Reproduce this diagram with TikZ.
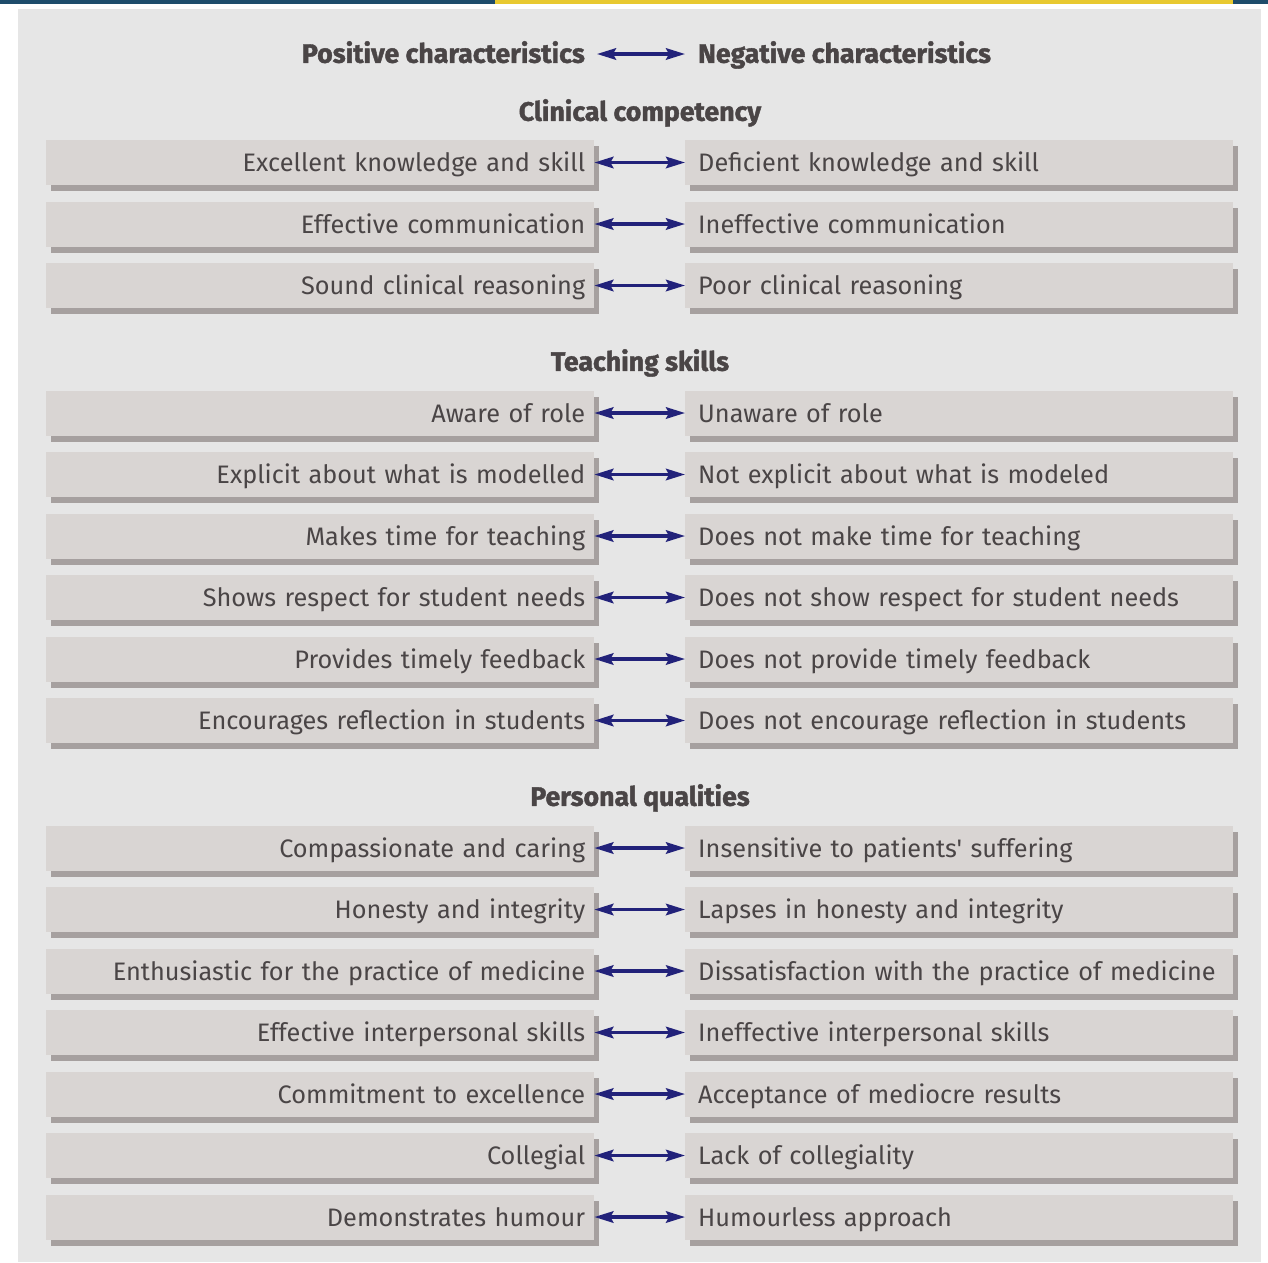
\documentclass[tikz,border=0pt]{standalone}
\usepackage{fontspec}
\setmainfont{Fira Sans}[Ligatures=TeXOff, BoldFeatures={FakeBold=1.5}]
\usetikzlibrary{arrows.meta,shadows}
\definecolor{panel}{HTML}{E6E6E6}
\definecolor{boxfill}{HTML}{D9D5D3}
\definecolor{boxshade}{HTML}{A6A09F}
\definecolor{txt}{HTML}{4A4546}
\definecolor{navy}{HTML}{22227A}
\definecolor{barblue}{HTML}{1E4C6B}
\definecolor{baryellow}{HTML}{E8C930}
\begin{document}
\begin{tikzpicture}[x=1pt,y=-1pt,
  item/.style={rectangle, fill=boxfill, inner ysep=0pt,
    text height=31.7pt, text depth=13.3pt,
    font=\fontsize{25.3}{30}\selectfont, text=txt,
    drop shadow={shadow xshift=5pt, shadow yshift=-6pt, fill=boxshade, opacity=1}},
  posbox/.style={item, anchor=west, inner xsep=9pt, text width=530pt, align=right},
  negbox/.style={item, anchor=west, inner xsep=13pt, text width=522pt, align=left},
  link/.style={{Stealth[length=19pt,width=11.5pt,inset=3pt]}-{Stealth[length=19pt,width=11.5pt,inset=3pt]},
    line width=3.2pt, draw=navy},
  head/.style={font=\fontsize{26.7}{30}\selectfont\bfseries, text=txt,
    inner ysep=0pt, text height=23pt, text depth=5.4pt}]
\useasboundingbox (0,0) rectangle (1268,1262);
% coloured strip along the top edge
\fill[barblue] (0,0) rectangle (495,3.5);
\fill[baryellow] (495,0) rectangle (1233,3.5);
\fill[barblue] (1233,0) rectangle (1268,3.5);
% grey panel
\fill[panel] (18,9) rectangle (1261,1262);

% column headings
\node[head, anchor=east, inner xsep=12pt] (hp) at (597,54) {Positive characteristics};
\node[head, anchor=west, inner xsep=13pt] (hn) at (685,54) {Negative characteristics};
\draw[link] (hp.east) -- (hn.west);

% section titles
\node[head] (s1) at (640,112) {Clinical competency};
\node[head] (s2) at (640,362) {Teaching skills};
\node[head] (s3) at (640,797) {Personal qualities};

% paired characteristics
\foreach \n/\y/\a/\b in {
  1/162.5/Excellent knowledge and skill/Deficient knowledge and skill,
  2/224/Effective communication/Ineffective communication,
  3/285.5/Sound clinical reasoning/Poor clinical reasoning,
  4/413/Aware of role/Unaware of role,
  5/474.5/Explicit about what is modelled/Not explicit about what is modeled,
  6/536/Makes time for teaching/Does not make time for teaching,
  7/597.5/Shows respect for student needs/Does not show respect for student needs,
  8/659/Provides timely feedback/Does not provide timely feedback,
  9/720.5/Encourages reflection in students/Does not encourage reflection in students,
  10/848/Compassionate and caring/Insensitive to patients' suffering,
  11/909.5/Honesty and integrity/Lapses in honesty and integrity,
  12/971/Enthusiastic for the practice of medicine/Dissatisfaction with the practice of medicine,
  13/1032.5/Effective interpersonal skills/Ineffective interpersonal skills,
  14/1094/Commitment to excellence/Acceptance of mediocre results,
  15/1155.5/Collegial/Lack of collegiality,
  16/1217/Demonstrates humour/Humourless approach}{
  \node[posbox] (l\n) at (46,\y) {\mbox{\a}};
  \node[negbox] (r\n) at (685,\y) {\mbox{\b}};
  \draw[link] (l\n.east) -- (r\n.west);
}
\end{tikzpicture}
\end{document}
